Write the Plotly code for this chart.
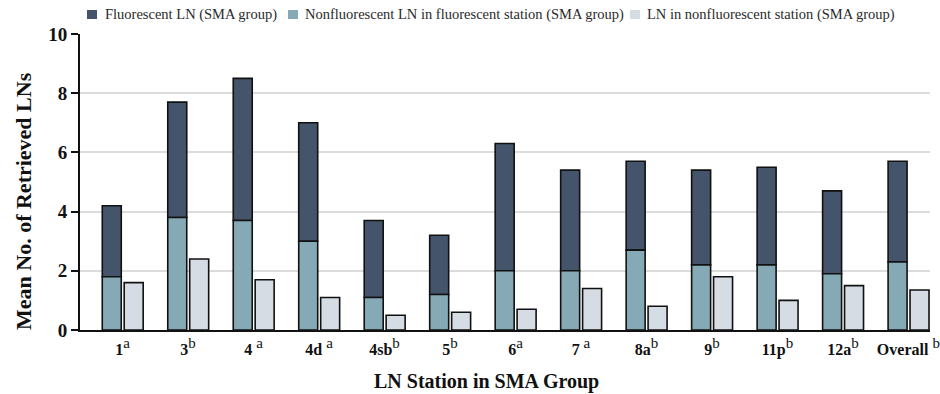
import plotly.graph_objects as go

# LN stations (SMA group) and their significance letters
stations = ["1", "3", "4", "4d", "4sb", "5", "6", "7", "8a", "9", "11p", "12a", "Overall"]
sig_letters = ["a", "b", "a", "a", "b", "b", "a", "a", "b", "b", "b", "b", "b"]
label_gaps = ["", "", " ", " ", "", "", "", " ", "", "", "", "", " "]

# Mean number of retrieved LNs per station
fluorescent = [2.4, 3.9, 4.8, 4.0, 2.6, 2.0, 4.3, 3.4, 3.0, 3.2, 3.3, 2.8, 3.4]
nonfluor_in_fluor_station = [1.8, 3.8, 3.7, 3.0, 1.1, 1.2, 2.0, 2.0, 2.7, 2.2, 2.2, 1.9, 2.3]
ln_nonfluor_station = [1.6, 2.4, 1.7, 1.1, 0.5, 0.6, 0.7, 1.4, 0.8, 1.8, 1.0, 1.5, 1.35]

y_ticks = [0, 2, 4, 6, 8, 10]

series_names = [
    "Fluorescent LN (SMA group)",
    "Nonfluorescent LN in fluorescent station (SMA group)",
    "LN in nonfluorescent station (SMA group)",
]
series_colors = ["#44546a", "#86aab5", "#d6dce4"]

SERIF = "Liberation Serif, Times New Roman, serif"
INK = "#111111"
outline = dict(color=INK, width=1.6)

# figure geometry (px)
W, H = 940, 394
ML, MR, MT, MB = 80, 10, 34, 64
PW, PH = W - ML - MR, H - MT - MB


def px_x(px):
    return (px - ML) / PW


def px_y(py):
    return (H - MB - py) / PH


tick_labels = [
    f"<b>{s}</b>{g}<sup><span style='font-size:15px'>{l}</span></sup>"
    for s, g, l in zip(stations, label_gaps, sig_letters)
]

fig = go.Figure()
fig.add_trace(go.Bar(
    x=stations, y=fluorescent, base=nonfluor_in_fluor_station,
    name=series_names[0], marker=dict(color=series_colors[0], line=outline),
    offset=-0.31, width=0.29,
))
fig.add_trace(go.Bar(
    x=stations, y=nonfluor_in_fluor_station,
    name=series_names[1], marker=dict(color=series_colors[1], line=outline),
    offset=-0.31, width=0.29,
))
fig.add_trace(go.Bar(
    x=stations, y=ln_nonfluor_station,
    name=series_names[2], marker=dict(color=series_colors[2], line=outline),
    offset=0.025, width=0.29,
))

# compact legend row above the plot: swatch + label
legend_swatch_x = [87, 288, 630]
legend_text_x = [103, 303, 645]
shapes, annotations = [], []
for name, color, sx, tx in zip(series_names, series_colors, legend_swatch_x, legend_text_x):
    shapes.append(dict(
        type="rect", xref="paper", yref="paper",
        x0=px_x(sx), x1=px_x(sx + 10), y0=px_y(19), y1=px_y(10),
        fillcolor=color, line=dict(width=0),
    ))
    annotations.append(dict(
        text=name, xref="paper", yref="paper", x=px_x(tx), y=px_y(14.5),
        xanchor="left", yanchor="middle", showarrow=False,
        font=dict(family=SERIF, size=14.5, color="#2a2a2a"),
    ))

# axis titles
annotations.append(dict(
    text="<b>LN Station in SMA Group</b>", xref="paper", yref="paper",
    x=px_x(486), y=px_y(381), xanchor="center", yanchor="middle", showarrow=False,
    font=dict(family=SERIF, size=20, color=INK),
))
annotations.append(dict(
    text="<b>Mean No. of Retrieved LNs</b>", xref="paper", yref="paper",
    x=px_x(23), y=px_y(201), xanchor="center", yanchor="middle", showarrow=False,
    textangle=-90, font=dict(family=SERIF, size=22, color=INK),
))

fig.update_layout(
    width=W, height=H,
    margin=dict(l=ML, r=MR, t=MT, b=MB, autoexpand=False),
    barmode="overlay", showlegend=False,
    plot_bgcolor="white", paper_bgcolor="white",
    font=dict(family=SERIF, color=INK),
    shapes=shapes, annotations=annotations,
    xaxis=dict(
        type="category", range=[-0.65, 12.33],
        tickvals=stations, ticktext=tick_labels,
        tickfont=dict(family=SERIF, size=16, color=INK),
        ticklabelstandoff=4,
        showline=True, linecolor=INK, linewidth=2,
        ticks="", showgrid=False,
    ),
    yaxis=dict(
        range=[0, 10], tickvals=y_ticks,
        ticktext=[f"<b>{v}</b>" for v in y_ticks],
        tickfont=dict(family=SERIF, size=19, color=INK),
        showline=True, linecolor=INK, linewidth=2,
        ticks="outside", ticklen=7, tickwidth=2, tickcolor=INK,
        showgrid=True, gridcolor="#dcdcdc", gridwidth=1.5,
        zeroline=False,
    ),
)

fig.write_html("out.html")
